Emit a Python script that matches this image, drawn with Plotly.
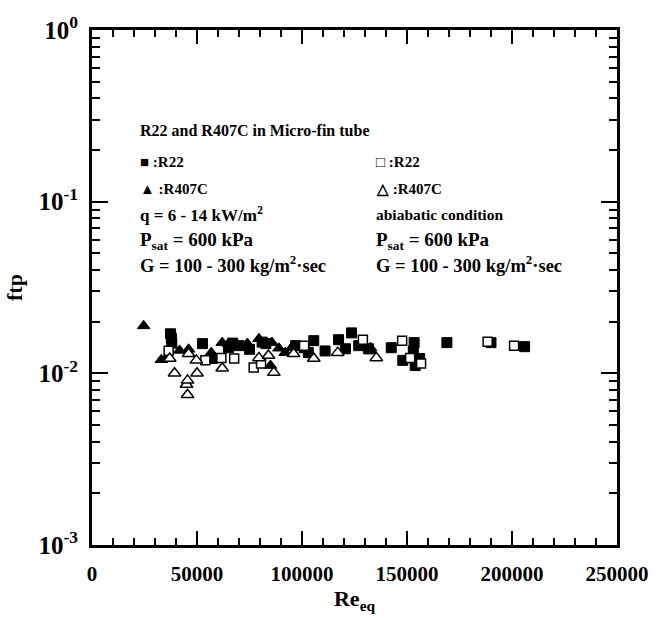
import plotly.graph_objects as go

# Two-phase friction factor vs. equivalent Reynolds number, micro-fin tube
# Diabatic (evaporation) data
r22_dia_re = [37400, 37800, 38000, 52600, 57300, 65000, 67000, 70000, 75000, 81000,
              82800, 97000, 101000, 103000, 105600, 111000, 117400, 120700, 123600,
              127000, 131600, 142500, 148000, 153000, 153400, 153900, 156000,
              169000, 190000, 206000]
r22_dia_f = [0.0170, 0.0160, 0.0150, 0.0149, 0.0122, 0.0141, 0.0150, 0.0145, 0.0138, 0.0152,
             0.0149, 0.0145, 0.0141, 0.0132, 0.0155, 0.0135, 0.0157, 0.0139, 0.0172,
             0.0145, 0.0139, 0.0141, 0.0119, 0.0135, 0.0151, 0.0111, 0.0122,
             0.0151, 0.0151, 0.0143]

r407c_dia_re = [24600, 33000, 36000, 41700, 46000, 56800, 62000, 65000, 74000, 79500,
                85000, 85700, 89000, 92000, 95000, 128000, 132600, 133000]
r407c_dia_f = [0.0189, 0.0120, 0.0125, 0.0136, 0.0138, 0.0132, 0.0151, 0.0149, 0.0149, 0.0159,
               0.0111, 0.0151, 0.0140, 0.0132, 0.0141, 0.0145, 0.0141, 0.0135]

# Adiabatic data
r22_adi_re = [36500, 54000, 61600, 67700, 77000, 80500, 101000, 129000, 147700,
              151500, 156700, 188400, 201000]
r22_adi_f = [0.01355, 0.0119, 0.0123, 0.0122, 0.0108, 0.0114, 0.0145, 0.0157, 0.0155,
             0.0123, 0.0114, 0.0153, 0.0145]

r407c_adi_re = [37000, 39300, 45000, 45500, 45500, 46000, 49700, 50000, 62000, 79500,
                84000, 86600, 96000, 105600, 117000, 135400]
r407c_adi_f = [0.0122, 0.0100, 0.0086, 0.0091, 0.0075, 0.0130, 0.0119, 0.0100, 0.0107, 0.0123,
               0.0127, 0.0101, 0.0130, 0.0122, 0.0132, 0.0123]

x_ticks = [0, 50000, 100000, 150000, 200000, 250000]
y_ticks = [0.001, 0.01, 0.1, 1]
y_tick_text = ["<b>10<sup>-3</sup></b>", "<b>10<sup>-2</sup></b>",
               "<b>10<sup>-1</sup></b>", "<b>10<sup>0</sup></b>"]

# minor tick positions: every 10000 on x, 2..9 per decade on y
x_minor = [v for v in range(10000, 250000, 10000) if v % 50000]
y_minor = [k * 10.0 ** d for d in (-3, -2, -1) for k in range(2, 10)]

SERIF = "Liberation Serif"
MSIZE = 11

fig = go.Figure()

fig.add_trace(go.Scatter(x=r22_dia_re, y=r22_dia_f, mode="markers", name="R22",
                         marker=dict(symbol="square", size=MSIZE - 1, color="black",
                                     line=dict(color="black", width=1))))
fig.add_trace(go.Scatter(x=r407c_dia_re, y=r407c_dia_f, mode="markers", name="R407C",
                         marker=dict(symbol="triangle-up", size=MSIZE, color="black",
                                     line=dict(color="black", width=1))))
fig.add_trace(go.Scatter(x=r22_adi_re, y=r22_adi_f, mode="markers", name="R22 adiabatic",
                         marker=dict(symbol="square", size=MSIZE - 2, color="white",
                                     line=dict(color="black", width=1.5))))
fig.add_trace(go.Scatter(x=r407c_adi_re, y=r407c_adi_f, mode="markers", name="R407C adiabatic",
                         marker=dict(symbol="triangle-up", size=MSIZE, color="white",
                                     line=dict(color="black", width=1.5))))
# empty traces that carry the tick-only overlay axes (minor: x2/y2, major: x3/y3)
for xa, ya in (("x2", "y2"), ("x3", "y3")):
    fig.add_trace(go.Scatter(x=[None], y=[None], xaxis=xa, yaxis=ya, showlegend=False,
                             hoverinfo="skip", mode="markers"))


def px_x(px):
    return (px - 92) / 528.0


def px_y(py):
    return (548 - py) / 523.0


notes = [
    (138, 127, "R22 and R407C in Micro-fin tube", 16),
    (138, 159, "■ :R22", 15),
    (138, 186, "▲ :R407C", 15),
    (138, 212, "q = 6 - 14 kW/m<sup>2</sup>", 17),
    (138, 239, "P<sub>sat</sub> = 600 kPa", 19),
    (138, 263, "G = 100 - 300 kg/m<sup>2</sup>·sec", 18.5),
    (376, 159, "□ :R22", 15),
    (376, 186, "△ :R407C", 15),
    (376, 212, "abiabatic condition", 15.5),
    (376, 239, "P<sub>sat</sub> = 600 kPa", 19),
    (376, 263, "G = 100 - 300 kg/m<sup>2</sup>·sec", 18.5),
]
annotations = [
    dict(x=px_x(x), y=px_y(y), xref="paper", yref="paper", text="<b>%s</b>" % t,
         showarrow=False, xanchor="left", yanchor="middle",
         font=dict(family=SERIF, size=s, color="black"))
    for x, y, t, s in notes
]


def tick_axis(overlay, vals, length, **kw):
    return dict(overlaying=overlay, tickmode="array", tickvals=vals, showticklabels=False,
                ticks="inside", ticklen=length, tickwidth=2, tickcolor="#000000",
                mirror="allticks", showline=False, showgrid=False, zeroline=False, **kw)


fig.update_layout(
    width=661, height=620,
    margin=dict(l=92, r=41, t=25, b=72),
    paper_bgcolor="white", plot_bgcolor="white",
    showlegend=False,
    annotations=annotations,
    xaxis=dict(
        range=[0, 250000], tickmode="array", tickvals=x_ticks,
        ticktext=["%d" % v for v in x_ticks], ticks="",
        showline=True, linecolor="black", linewidth=3, mirror=True,
        showgrid=False, zeroline=False, ticklabelstandoff=8,
        tickfont=dict(family=SERIF, size=21, color="black", weight="bold"),
        title=dict(text="<b>Re<sub>eq</sub></b>", standoff=6,
                   font=dict(family=SERIF, size=22, color="black")),
    ),
    yaxis=dict(
        type="log", range=[-3, 0], tickmode="array", tickvals=y_ticks,
        ticktext=y_tick_text, ticks="",
        showline=True, linecolor="black", linewidth=3, mirror=True,
        showgrid=False, zeroline=False, ticklabelstandoff=6,
        tickfont=dict(family=SERIF, size=25, color="black"),
        title=dict(text="<b>ftp</b>", standoff=10,
                   font=dict(family=SERIF, size=22, color="black")),
    ),
    xaxis2=tick_axis("x", x_minor, 7, range=[0, 250000], side="bottom", anchor="y2"),
    yaxis2=tick_axis("y", y_minor, 8, type="log", range=[-3, 0], side="left", anchor="x2"),
    xaxis3=tick_axis("x", x_ticks, 14, range=[0, 250000], side="bottom", anchor="y3"),
    yaxis3=tick_axis("y", y_ticks, 16, type="log", range=[-3, 0], side="left", anchor="x3"),
)

fig.write_html("out.html")
